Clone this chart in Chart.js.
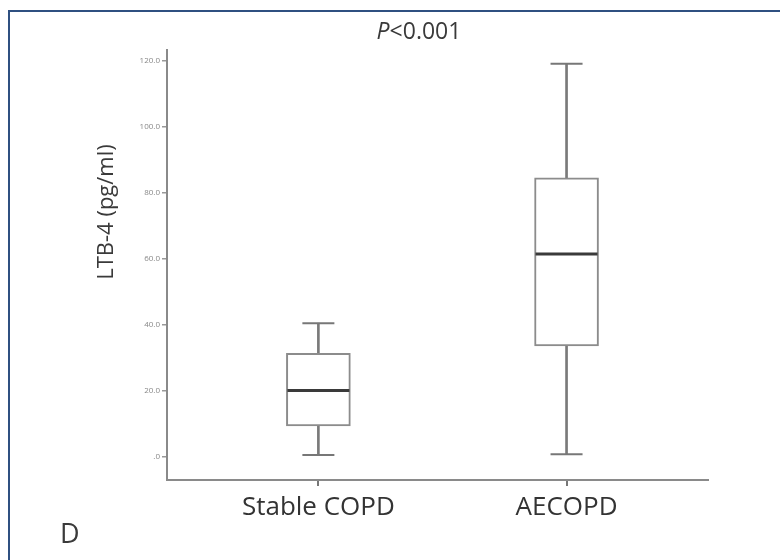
<!DOCTYPE html>
<html><head><meta charset="utf-8">
<script src="https://cdn.jsdelivr.net/npm/chart.js@4.4.1/dist/chart.umd.min.js"></script>
<style>
html,body{margin:0;padding:0;background:#fff;}
#wrap{position:relative;width:780px;height:560px;overflow:hidden;font-family:"Open Sans",sans-serif;}
#frame{position:absolute;left:8px;top:10px;right:-6px;bottom:-6px;border-top:2px solid #2f5081;border-left:2px solid #2f5081;}
canvas{position:absolute;left:0;top:0;}
.lbl{position:absolute;white-space:nowrap;color:#3a3a3a;}
#ptitle{left:419px;top:30px;transform:translate(-50%,-50%);font-size:23px;}
#ytitle{left:104px;top:212px;transform:translate(-50%,-50%) rotate(-90deg);font-size:22px;}
#dlabel{left:60px;top:532px;transform:translateY(-50%);font-size:27px;}
</style>
</head><body>
<div id="wrap">
<canvas id="c" width="780" height="560"></canvas>
<div id="frame"></div>
<div class="lbl" id="ptitle"><i>P</i>&lt;0.001</div>
<div class="lbl" id="ytitle">LTB-4 (pg/ml)</div>
<div class="lbl" id="dlabel">D</div>
</div>
<script>
const categories = ['Stable COPD', 'AECOPD'];
const whiskerMin = [0.6, 0.8];
const q1 = [9.4, 33.6];
const median = [20.1, 61.5];
const q3 = [31.4, 84.6];
const whiskerMax = [40.5, 119.1];
const yTickValues = [0, 20, 40, 60, 80, 100, 120];
const yTickLabels = ['.0', '20.0', '40.0', '60.0', '80.0', '100.0', '120.0'];

const idx = categories.map((_, i) => i);

new Chart(document.getElementById('c'), {
  type: 'bar',
  data: {
    datasets: [
      {
        type: 'scatter', label: 'median',
        data: idx.map(i => ({x: i, y: median[i]})),
        pointStyle: 'line', pointRadius: 31, pointBorderWidth: 3,
        pointBorderColor: '#3a3a3a', borderColor: '#3a3a3a', order: 0
      },
      {
        type: 'scatter', label: 'caps',
        data: idx.flatMap(i => [{x: i, y: whiskerMin[i]}, {x: i, y: whiskerMax[i]}]),
        pointStyle: 'line', pointRadius: 16, pointBorderWidth: 2,
        pointBorderColor: '#777', borderColor: '#777', order: 0
      },
      {
        type: 'bar', label: 'box',
        data: idx.map(i => ({x: i, y: [q1[i], q3[i]]})),
        barThickness: 64, backgroundColor: '#fff', borderColor: '#8c8c8c',
        borderWidth: 2, borderSkipped: false, grouped: false, order: 1
      },
      {
        type: 'bar', label: 'whisker',
        data: idx.map(i => ({x: i, y: [whiskerMin[i], whiskerMax[i]]})),
        barThickness: 2, backgroundColor: '#7a7a7a', borderWidth: 0,
        grouped: false, order: 2
      }
    ]
  },
  options: {
    responsive: false,
    devicePixelRatio: 1,
    animation: false,
    events: [],
    layout: {padding: {top: 50, right: 72, left: 0, bottom: 0}},
    plugins: {legend: {display: false}, tooltip: {enabled: false}, title: {display: false}},
    scales: {
      x: {
        type: 'linear', min: -0.61, max: 1.57, offset: false,
        afterBuildTicks: s => { s.ticks = idx.map(v => ({value: v})); },
        afterFit: s => { s.height = 80; },
        ticks: {
          callback: v => categories[v],
          font: {size: 26, family: 'Open Sans'}, color: '#333',
          padding: 6, autoSkip: false, maxRotation: 0
        },
        grid: {display: true, offset: false, drawOnChartArea: false, drawTicks: true, tickLength: 6, color: '#777', lineWidth: 2},
        border: {display: true, color: '#8a8a8a', width: 2}
      },
      y: {
        type: 'linear', min: -7, max: 123.3,
        afterBuildTicks: s => { s.ticks = yTickValues.map(v => ({value: v})); },
        afterFit: s => { s.width = 167; },
        ticks: {
          callback: (v, i) => yTickLabels[i],
          font: {size: 8, family: 'Open Sans'}, color: '#888', padding: 2
        },
        grid: {display: true, drawOnChartArea: false, drawTicks: true, tickLength: 5, color: '#999', lineWidth: 1.5},
        border: {display: true, color: '#8a8a8a', width: 2}
      }
    }
  }
});
</script>
</body></html>
